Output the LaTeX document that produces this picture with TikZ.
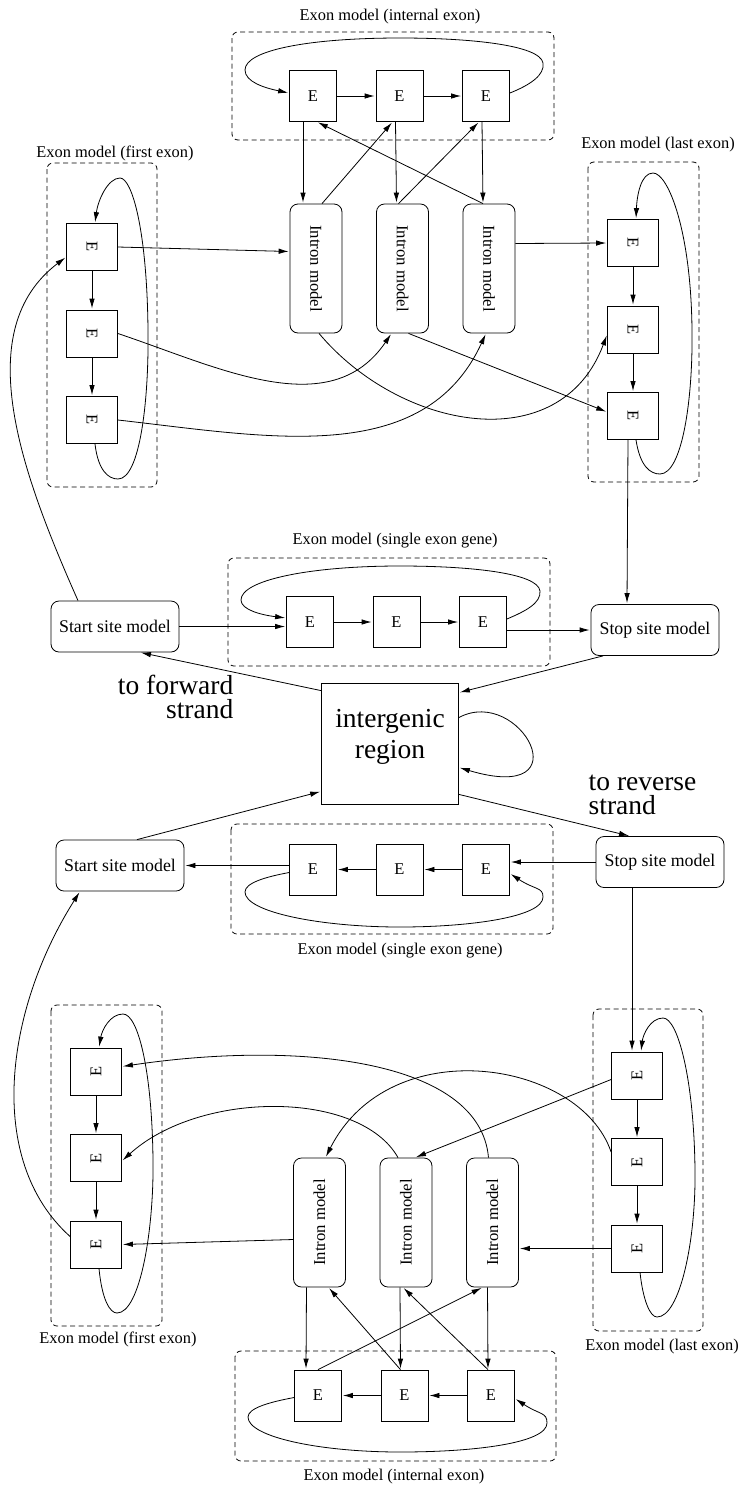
\documentclass[tikz,border=0pt]{standalone}
\usepackage{fontspec}
\setmainfont{Liberation Serif}
\usetikzlibrary{arrows.meta,positioning}

\begin{document}
\begin{tikzpicture}[x=1pt,y=1pt,shorten >=1pt,node distance=86.5pt,on grid,
    >={Latex[length=10pt,width=5.5pt]},line width=0.8pt]
       \tikzstyle{ebox}=[draw,minimum width=47pt,minimum height=51pt,inner sep=0pt,font=\fontsize{16.5}{18}\selectfont]
       \tikzstyle{eside}=[ebox,minimum width=51pt,minimum height=47pt]
       \tikzstyle{intron}=[draw,rounded corners=8pt,minimum width=52pt,minimum height=129pt,inner sep=0pt,font=\fontsize{16.7}{18}\selectfont]
       \tikzstyle{site}=[draw,rounded corners=8pt,minimum width=128pt,minimum height=51pt,inner sep=0pt,font=\fontsize{17.8}{20}\selectfont]
       \tikzstyle{region}=[draw,minimum width=137pt,minimum height=121pt,inner sep=0pt,font=\fontsize{27.5}{31}\selectfont]
       \tikzstyle{strand}=[font=\fontsize{27.5}{24.5}\selectfont]
       \tikzstyle{grptitle}=[font=\fontsize{16.4}{18}\selectfont]
       \tikzstyle{grp}=[draw,dash pattern=on 5pt off 3.5pt,rounded corners=6pt,line width=0.8pt]

       \useasboundingbox (0,0) rectangle (743,-1489);

       % forward strand
       \node[grptitle] (capint) at (390,-16.5) {Exon model (internal exon)};
       \draw[grp] (232,-32) rectangle (554,-140);
       \node[ebox] (ie1) at (313,-96) {E};
       \node[ebox] (ie2) [right of=ie1] {E};
       \node[ebox] (ie3) [right of=ie2] {E};

       \node[intron] (in1) at (316,-268.5) {\rotatebox{-90}{Intron model}};
       \node[intron] (in2) [right of=in1] {\rotatebox{-90}{Intron model}};
       \node[intron] (in3) [right of=in2] {\rotatebox{-90}{Intron model}};

       \node[grptitle] (capfirst) at (115,-153) {Exon model (first exon)};
       \draw[grp] (47,-163) rectangle (157,-487);
       \node[eside] (fe1) at (92,-247) {\rotatebox{-90}{E}};
       \node[eside] (fe2) [below of=fe1] {\rotatebox{-90}{E}};
       \node[eside] (fe3) [below of=fe2] {\rotatebox{-90}{E}};

       \node[grptitle] (caplast) at (658,-144.5) {Exon model (last exon)};
       \draw[grp] (588,-162) rectangle (699,-482);
       \node[eside] (le1) at (633,-243) {\rotatebox{-90}{E}};
       \node[eside] (le2) [below of=le1] {\rotatebox{-90}{E}};
       \node[eside] (le3) [below of=le2] {\rotatebox{-90}{E}};

       \node[site] (start) at (115,-626.5) {Start site model};
       \node[grptitle] (capsingle) at (395,-540.5) {Exon model (single exon gene)};
       \draw[grp] (228,-558) rectangle (550,-666);
       \node[ebox] (se1) at (310,-622) {E};
       \node[ebox] (se2) [right of=se1] {E};
       \node[ebox] (se3) [right of=se2] {E};
       \node[site] (stop) at (655,-630) {Stop site model};

       \node[region] (ig) at (390,-743.5)
            {\raisebox{0pt}[0pt][0pt]{\begin{tabular}{@{}c@{}}intergenic\\region\end{tabular}}};
       \node[strand,align=right,anchor=east] (fwd) at (237,-697) {to forward\\strand};
       \node[strand,align=left,anchor=west] (rev) at (585,-795) {to reverse\\strand};

       % reverse strand
       \node[site] (rstart) at (120,-865.5) {Start site model};
       \draw[grp] (231,-824) rectangle (553,-934);
       \node[grptitle] (caprsingle) at (400,-950.5) {Exon model (single exon gene)};
       \node[ebox] (rse1) at (313,-869.5) {E};
       \node[ebox] (rse2) [right of=rse1] {E};
       \node[ebox] (rse3) [right of=rse2] {E};
       \node[site] (rstop) at (660,-862) {Stop site model};

       \draw[grp] (51,-1005) rectangle (162,-1326);
       \node[grptitle] (caprfirst) at (118,-1339.5) {Exon model (first exon)};
       \node[eside] (rfe1) at (96,-1071.5) {\rotatebox{90}{E}};
       \node[eside] (rfe2) [below of=rfe1] {\rotatebox{90}{E}};
       \node[eside] (rfe3) [below of=rfe2] {\rotatebox{90}{E}};

       \node[intron] (rin1) at (319.5,-1222.5) {\rotatebox{90}{Intron model}};
       \node[intron] (rin2) [right of=rin1] {\rotatebox{90}{Intron model}};
       \node[intron] (rin3) [right of=rin2] {\rotatebox{90}{Intron model}};

       \draw[grp] (235,-1351) rectangle (556,-1461);
       \node[grptitle] (caprint) at (394,-1476.5) {Exon model (internal exon)};
       \node[ebox] (rie1) at (318,-1395.5) {E};
       \node[ebox] (rie2) [right of=rie1] {E};
       \node[ebox] (rie3) [right of=rie2] {E};

       \draw[grp] (593,-1009) rectangle (703,-1331);
       \node[grptitle] (caprlast) at (662,-1347) {Exon model (last exon)};
       \node[eside] (rle1) at (637,-1075.5) {\rotatebox{90}{E}};
       \node[eside] (rle2) [below of=rle1] {\rotatebox{90}{E}};
       \node[eside] (rle3) [below of=rle2] {\rotatebox{90}{E}};

       \path[->]
       (ie1) edge (ie2)
       (ie2) edge (ie3)
       ([xshift=-10pt]ie1.south) edge ([xshift=-13pt]in1.north)
       ([xshift=-4pt]ie2.south) edge ([xshift=-6pt]in2.north)
       ([xshift=-4pt]ie3.south) edge ([xshift=-6pt]in3.north)
       ([xshift=6pt]in1.north) edge ([xshift=-7pt]ie2.south)
       ([xshift=-4pt]in2.north) edge ([xshift=-7pt]ie3.south)
       ([xshift=-6pt]in3.north) edge ([xshift=4pt]ie1.south)
       (fe1) edge (fe2)
       (fe2) edge (fe3)
       (fe1.east) edge ([yshift=17pt]in1.west)
       ([xshift=6pt]in2.south) edge ([yshift=4pt]le3.west)
       ([yshift=25pt]in3.east) edge (le1.west)
       (le1) edge (le2)
       (le2) edge (le3)
       ([xshift=-5pt]le3.south) edge ([xshift=-28pt]stop.north)
       (start.east) edge (se1.west |- start.east)
       (se1) edge (se2)
       (se2) edge (se3)
       (se3.east |- stop.west) edge (stop.west)
       ([xshift=-52pt]stop.south) edge ([yshift=-10pt]ig.north east)
       ([yshift=-8pt]ig.north west) edge ([xshift=25pt]start.south)
       ([xshift=17pt]rstart.north) edge ([yshift=13pt]ig.south west)
       ([yshift=10pt]ig.south east) edge ([xshift=-30pt]rstop.north)
       (rse1.west |- rstart.east) edge (rstart.east)
       (rse2) edge (rse1)
       (rse3) edge (rse2)
       (rstop.west) edge (rse3.east |- rstop.west)
       ([xshift=-28pt]rstop.south) edge ([xshift=-5pt]rle1.north)
       (rle1) edge (rle2)
       (rle2) edge (rle3)
       (rfe1) edge (rfe2)
       (rfe2) edge (rfe3)
       ([yshift=-17pt]rin1.west) edge (rfe3.east)
       ([yshift=-4pt]rle1.west) edge ([xshift=9pt]rin2.north)
       (rle3.west) edge (rin3.east |- rle3.west)
       ([xshift=-13pt]rin1.south) edge ([xshift=-12pt]rie1.north)
       ([xshift=-6pt]rin2.south) edge ([xshift=-4pt]rie2.north)
       ([xshift=-5pt]rin3.south) edge ([xshift=-3pt]rie3.north)
       ([xshift=-4pt]rie2.north) edge ([xshift=9pt]rin1.south)
       ([xshift=-3pt]rie3.north) edge ([xshift=-3pt]rin2.south)
       (rie1.north) edge ([xshift=-10pt]rin3.south)
       (rie3) edge (rie2)
       (rie2) edge (rie1);

       % curved transitions
       \draw[->] (fe2.east) .. controls (218,-367) and (330,-424) .. ([xshift=-11pt]in2.south);
       \draw[->] (fe3.east) .. controls (269,-437) and (424,-468) .. ([xshift=-3pt]in3.south);
       \draw[->] ([xshift=3pt]in1.south) .. controls (400,-430) and (560,-460) .. ([yshift=-5pt]le2.west);
       \draw[->] ([xshift=-37pt]start.north) .. controls (20,-470) and (-30,-330) .. ([yshift=-10pt]fe1.west);
       \draw[->] ([yshift=26pt]ig.east) .. controls (520,-685) and (585,-805) .. ([yshift=-24pt]ig.east);
       \draw[->] ([xshift=-4pt]rin3.north) .. controls (480,-1060) and (300,-1040) .. ([yshift=5pt]rfe1.east);
       \draw[->] ([xshift=-8pt]rin2.north) .. controls (360,-1090) and (200,-1090) .. ([yshift=-3pt]rfe2.east);
       \draw[->] ([yshift=10pt]rle2.west) .. controls (580,-1060) and (390,-1030) .. ([xshift=6pt]rin1.north);
       \draw[->] ([yshift=8pt]rfe3.west) .. controls (-15,-1160) and (5,-1010) .. ([xshift=-40pt]rstart.south);

       % self loops
       \draw[->] ([yshift=3pt]ie3.east) .. controls (530,-85) and (545,-75) .. (543,-63)
             .. controls (540,-45) and (470,-38) .. (400,-38)
             .. controls (310,-38) and (245,-50) .. (245,-70)
             .. controls (245,-82) and (265,-88) .. ([yshift=3pt]ie1.west);
       \draw[->] ([xshift=3pt]fe3.south) .. controls (98,-470) and (108,-479) .. (118,-479)
             .. controls (140,-479) and (149,-400) .. (148,-330)
             .. controls (147,-230) and (132,-178) .. (120,-178)
             .. controls (108,-178) and (98,-200) .. ([xshift=3pt]fe1.north);
       \draw[->] ([xshift=3pt]le3.south) .. controls (640,-466) and (650,-474) .. (660,-474)
             .. controls (682,-474) and (693,-400) .. (692,-330)
             .. controls (691,-230) and (668,-173) .. (653,-173)
             .. controls (641,-173) and (637,-195) .. ([xshift=3pt]le1.north);
       \draw[->] ([yshift=3pt]se3.east) .. controls (526,-611) and (541,-603) .. (540,-591)
             .. controls (538,-573) and (470,-566) .. (400,-566)
             .. controls (310,-566) and (241,-580) .. (241,-600)
             .. controls (241,-610) and (262,-615) .. ([yshift=4pt]se1.west);
       \draw[->] ([yshift=-3pt]rse1.west) .. controls (265,-877) and (245,-883) .. (245,-892)
             .. controls (245,-912) and (320,-927) .. (400,-927)
             .. controls (470,-927) and (543,-917) .. (543,-897)
             .. controls (543,-887) and (535,-890) .. ([yshift=-4pt]rse3.east);
       \draw[->] ([xshift=3pt]rfe3.south) .. controls (102,-1300) and (110,-1313) .. (117,-1313)
             .. controls (140,-1313) and (154,-1230) .. (153,-1160)
             .. controls (152,-1070) and (138,-1014) .. (123,-1014)
             .. controls (110,-1014) and (102,-1030) .. ([xshift=3pt]rfe1.north);
       \draw[->] ([xshift=3pt]rle3.south) .. controls (643,-1300) and (650,-1317) .. (657,-1317)
             .. controls (680,-1317) and (696,-1240) .. (695,-1170)
             .. controls (694,-1080) and (678,-1018) .. (663,-1018)
             .. controls (650,-1018) and (643,-1035) .. ([xshift=4pt]rle1.north);
       \draw[->] ([yshift=-2pt]rie1.west) .. controls (270,-1402) and (248,-1408) .. (248,-1417)
             .. controls (248,-1437) and (320,-1452) .. (400,-1452)
             .. controls (475,-1452) and (547,-1443) .. (547,-1423)
             .. controls (547,-1412) and (540,-1415) .. ([yshift=-3pt]rie3.east);
     \end{tikzpicture}
\end{document}
